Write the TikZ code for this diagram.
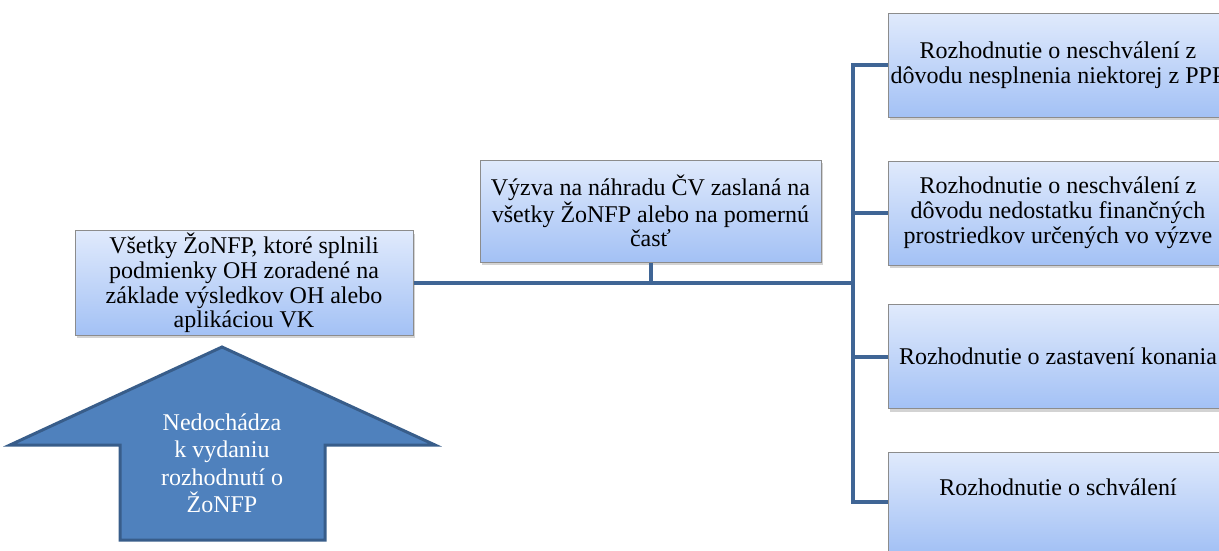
\documentclass[tikz,border=0pt]{standalone}
\usepackage{fontspec}
\setmainfont{Liberation Serif}
\usetikzlibrary{shadows}

\definecolor{boxtop}{HTML}{E0EAFC}
\definecolor{boxbottom}{HTML}{A3C1F5}
\definecolor{boxgray}{HTML}{8C8C8C}
\definecolor{buscolor}{HTML}{3F6595}
\definecolor{arrowfill}{HTML}{4F81BD}
\definecolor{arrowline}{HTML}{385D8A}

\begin{document}
\begin{tikzpicture}[x=1pt, y=-1pt, line width=1pt,
    stepbox/.style={draw=boxgray, top color=boxtop, bottom color=boxbottom,
        align=center, inner sep=2pt, font=\fontsize{24}{24.8}\selectfont,
        drop shadow={shadow xshift=1.5pt, shadow yshift=-3pt, opacity=0.35}},
    bus/.style={draw=buscolor, line width=4pt}]

    % picture frame
    \useasboundingbox (0,0) rectangle (1219,550);
    \clip (0,0) rectangle (1219,550);

    %----------------------
    % LEFT SIDE (list of applicants + up arrow)
    %----------------------
    \node[stepbox, minimum width=338pt, minimum height=103pt] (ohlist) at (244,283)
        {Všetky ŽoNFP, ktoré splnili\\ podmienky OH zoradené na\\ základe výsledkov OH alebo\\ aplikáciou VK};

    % Big up arrow
    \filldraw[fill=arrowfill, draw=arrowline, line width=3pt, line join=miter]
        (222,347) -- (435,445) -- (325,445) -- (325,540) -- (120,540) -- (120,445) -- (10,445) -- cycle;
    \node[text=white, align=center, font=\fontsize{24}{27.5}\selectfont] (noissue) at (222,463.5)
        {Nedochádza\\ k vydaniu\\ rozhodnutí o\\ ŽoNFP};

    %----------------------
    % MIDDLE (call for replacement)
    %----------------------
    \node[stepbox, minimum width=341pt, minimum height=102pt] (call) at (650.5,211)
        {Výzva na náhradu ČV zaslaná na\\ všetky ŽoNFP alebo na pomernú\\ časť};

    %----------------------
    % RIGHT SIDE (decisions)
    %----------------------
    \node[stepbox, minimum width=340pt, minimum height=104pt] (reject1) at (1058,65)
        {Rozhodnutie o neschválení z\\ dôvodu nesplnenia niektorej z PPP};
    \node[stepbox, minimum width=340pt, minimum height=104pt] (reject2) at (1058,213)
        {Rozhodnutie o neschválení z\\ dôvodu nedostatku finančných\\ prostriedkov určených vo výzve};
    \node[stepbox, minimum width=340pt, minimum height=104pt] (stop) at (1058,356.5)
        {Rozhodnutie o zastavení konania};
    \node[stepbox, minimum width=340pt, minimum height=100pt] (approve) at (1058,502)
        {Rozhodnutie o schválení\\[4pt] \mbox{}};

    %----------------------
    % CONNECTORS
    %----------------------
    \coordinate (fork) at (853,283);
    \draw[bus] (ohlist.east) -- (fork);
    \draw[bus] (call.south) -- (call.south |- fork);
    \draw[bus] (fork) |- (reject1.west);
    \draw[bus] (fork) |- (reject2.west);
    \draw[bus] (fork) |- (stop.west);
    \draw[bus] (fork) |- (approve.west);

\end{tikzpicture}
\end{document}
